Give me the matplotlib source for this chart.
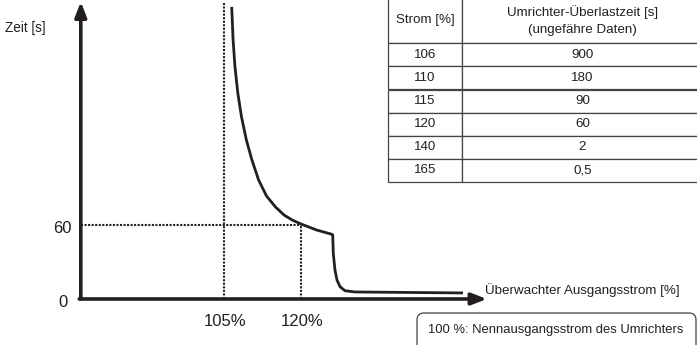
import matplotlib
matplotlib.use('Agg')
import matplotlib.pyplot as plt
from matplotlib.patches import FancyBboxPatch

# kurve (strom in %, zeit schematisch)
strom = [106.50, 106.77, 107.14, 107.69, 108.41, 109.36, 110.44, 111.74, 113.28,
         115.03, 116.69, 118.25, 120.00, 123.06, 125.98, 126.18,
         126.29, 126.62, 127.01, 127.60, 128.57, 130.52, 151.56]
zeit = [236.8, 210.0, 188.1, 167.0, 147.6, 128.9, 112.7, 96.5, 83.5,
        74.6, 68.1, 64.1, 60.8, 55.9, 52.5, 51.9,
        37.1, 23.5, 15.4, 10.0, 6.7, 5.7, 4.9]

x_marken = [105, 120]
x_beschriftung = ['105%', '120%']
y_marken = [0, 60]

# tabelle
spalten = ['Strom [%]', 'Umrichter-Überlastzeit [s]\n(ungefähre Daten)']
tab_strom = ['106', '110', '115', '120', '140', '165']
tab_zeit = ['900', '180', '90', '60', '2', '0,5']

plt.rcParams['font.family'] = ['Liberation Sans', 'DejaVu Sans']
farbe = '#231f20'

fig = plt.figure(figsize=(6.97, 3.45), dpi=100)
ax = fig.add_axes([0, 0, 1, 1])
ax.set_xlim(61.36, 197.15)
ax.set_ylim(-37.3, 242.4)
ax.axis('off')

x0 = 77.1
# achsen mit pfeilen
pfeil = dict(arrowstyle='-|>,head_length=0.9,head_width=0.35',
             lw=2.6, color=farbe, shrinkA=0, shrinkB=0)
ax.annotate('', xy=(x0, 241), xytext=(x0, 0), arrowprops=pfeil)
ax.annotate('', xy=(156.2, 0), xytext=(x0 - 0.3, 0), arrowprops=pfeil)

# hilfslinien gepunktet
punkte = (0, (1, 0.7))
ax.plot([x0, x_marken[1]], [y_marken[1], y_marken[1]], color=farbe, lw=1.5, linestyle=punkte)
ax.plot([x_marken[0], x_marken[0]], [0, 240], color=farbe, lw=1.5, linestyle=punkte)
ax.plot([x_marken[1], x_marken[1]], [0, y_marken[1]], color=farbe, lw=1.5, linestyle=punkte)

ax.plot(strom, zeit, color=farbe, lw=2.0, solid_joinstyle='round', solid_capstyle='butt')

for xm, lab in zip(x_marken, x_beschriftung):
    ax.text(xm + 0.2, -18.5, lab, ha='center', va='center', fontsize=12, color=farbe)
for ym in y_marken:
    ax.text(x0 - 3.5, ym - 3, str(ym), ha='center', va='center', fontsize=12, color=farbe)

ax.text(5 / 697, 1 - 28 / 345, 'Zeit [s]', transform=ax.transAxes, ha='left', va='center',
        fontsize=9.8, color=farbe)
ax.text(485 / 697, 1 - 290 / 345, 'Überwachter Ausgangsstrom [%]', transform=ax.transAxes,
        ha='left', va='center', fontsize=9.6, color=farbe)

# hinweis box
box = FancyBboxPatch((4.17, -0.2), 2.79, 0.52, boxstyle='round,pad=0,rounding_size=0.07',
                     transform=fig.dpi_scale_trans, fc='white', ec='#444444', lw=0.9)
ax.add_patch(box)
ax.text(556 / 697, 1 - 330 / 345, '100 %: Nennausgangsstrom des Umrichters',
        transform=ax.transAxes, ha='center', va='center', fontsize=9.4, color=farbe)

# tabelle
zeilen = [[s, z] for s, z in zip(tab_strom, tab_zeit)]
tab = ax.table(cellText=zeilen, colLabels=spalten, cellLoc='center',
               colWidths=[74, 241], bbox=[388 / 697, 1 - 182 / 345, 315 / 697, 185 / 345])
tab.auto_set_font_size(False)
for (r, c), zelle in tab.get_celld().items():
    zelle.set_edgecolor('#444444')
    zelle.set_linewidth(0.9)
    zelle.set_height(46 if r == 0 else 23)
    zelle.get_text().set_fontsize(9.6)
    zelle.get_text().set_color(farbe)
    if r == 0:
        zelle.get_text().set_linespacing(1.55)

fig.savefig('out.png', dpi=100)
